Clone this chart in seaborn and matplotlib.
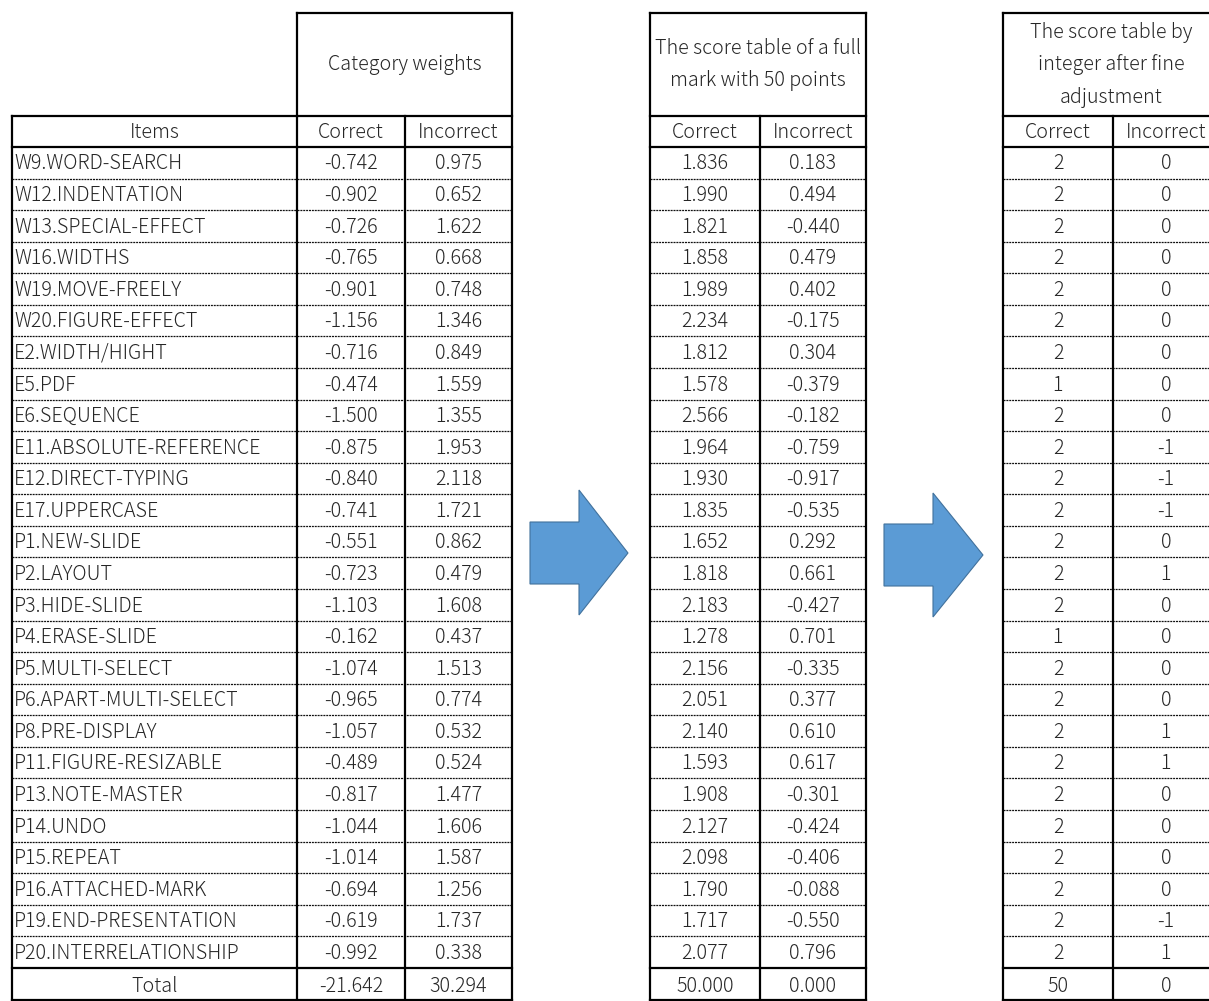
import matplotlib
matplotlib.use("Agg")
import matplotlib.pyplot as plt
import seaborn as sns
from matplotlib.patches import Polygon

sns.set_theme(style="white")
plt.rcParams['font.family'] = ['Noto Sans CJK JP', 'DejaVu Sans']

# ---------------- data ----------------
items = ["W9.WORD-SEARCH", "W12.INDENTATION", "W13.SPECIAL-EFFECT", "W16.WIDTHS",
         "W19.MOVE-FREELY", "W20.FIGURE-EFFECT", "E2.WIDTH/HIGHT", "E5.PDF",
         "E6.SEQUENCE", "E11.ABSOLUTE-REFERENCE", "E12.DIRECT-TYPING", "E17.UPPERCASE",
         "P1.NEW-SLIDE", "P2.LAYOUT", "P3.HIDE-SLIDE", "P4.ERASE-SLIDE",
         "P5.MULTI-SELECT", "P6.APART-MULTI-SELECT", "P8.PRE-DISPLAY", "P11.FIGURE-RESIZABLE",
         "P13.NOTE-MASTER", "P14.UNDO", "P15.REPEAT", "P16.ATTACHED-MARK",
         "P19.END-PRESENTATION", "P20.INTERRELATIONSHIP"]
weight_correct = ["-0.742", "-0.902", "-0.726", "-0.765", "-0.901", "-1.156", "-0.716", "-0.474",
                  "-1.500", "-0.875", "-0.840", "-0.741", "-0.551", "-0.723", "-1.103", "-0.162",
                  "-1.074", "-0.965", "-1.057", "-0.489", "-0.817", "-1.044", "-1.014", "-0.694",
                  "-0.619", "-0.992"]
weight_incorrect = ["0.975", "0.652", "1.622", "0.668", "0.748", "1.346", "0.849", "1.559",
                    "1.355", "1.953", "2.118", "1.721", "0.862", "0.479", "1.608", "0.437",
                    "1.513", "0.774", "0.532", "0.524", "1.477", "1.606", "1.587", "1.256",
                    "1.737", "0.338"]
score_correct = ["1.836", "1.990", "1.821", "1.858", "1.989", "2.234", "1.812", "1.578",
                 "2.566", "1.964", "1.930", "1.835", "1.652", "1.818", "2.183", "1.278",
                 "2.156", "2.051", "2.140", "1.593", "1.908", "2.127", "2.098", "1.790",
                 "1.717", "2.077"]
score_incorrect = ["0.183", "0.494", "-0.440", "0.479", "0.402", "-0.175", "0.304", "-0.379",
                   "-0.182", "-0.759", "-0.917", "-0.535", "0.292", "0.661", "-0.427", "0.701",
                   "-0.335", "0.377", "0.610", "0.617", "-0.301", "-0.424", "-0.406", "-0.088",
                   "-0.550", "0.796"]
int_correct = ["2", "2", "2", "2", "2", "2", "2", "1", "2", "2", "2", "2", "2",
               "2", "2", "1", "2", "2", "2", "2", "2", "2", "2", "2", "2", "2"]
int_incorrect = ["0", "0", "0", "0", "0", "0", "0", "0", "0", "-1", "-1", "-1", "0",
                 "1", "0", "0", "0", "0", "1", "1", "0", "0", "0", "0", "-1", "1"]
totals_weight = ["-21.642", "30.294"]
totals_score = ["50.000", "0.000"]
totals_int = ["50", "0"]

header1 = "Category weights"
header2 = "The score table of a full\nmark with 50 points"
header3 = "The score table by\ninteger after fine\nadjustment"
sub_headers = ["Correct", "Incorrect"]
items_label = "Items"
total_label = "Total"

# ---------------- layout ----------------
W, H = 1209, 1001
fig = plt.figure(figsize=(W / 100, H / 100), dpi=100)
ax = fig.add_axes([0, 0, 1, 1])
ax.set_xlim(0, W)
ax.set_ylim(H, 0)
ax.axis("off")

top = 13
sub_top = 116
data_top = 147
bottom = 999.5
n_rows = len(items) + 1
row_h = (bottom - data_top) / n_rows

FS = 14.2
FW = "light"
TXT = "#262626"
LW_SOLID = 1.6
LW_DASH = 0.9
DY = 1.2

def txt(x, y, s, ha="center", **kw):
    ax.text(x, y + DY, s, ha=ha, va="center", fontsize=FS, color=TXT, fontweight=FW, **kw)

def solid_h(y, x0, x1):
    ax.plot([x0, x1], [y, y], color="black", lw=LW_SOLID, solid_capstyle="projecting")

def solid_v(x, y0, y1):
    ax.plot([x, x], [y0, y1], color="black", lw=LW_SOLID, solid_capstyle="projecting")

def dashed_h(y, x0, x1):
    ax.plot([x0, x1], [y, y], color="#111111", lw=LW_DASH, linestyle=(0, (1.6, 0.7)))

def row_center(i):
    return data_top + (i + 0.5) * row_h

def draw_block(cols, header_text, columns, totals, header_y_top=top):
    x0, x1 = cols[0], cols[-1]
    solid_h(header_y_top, x0, x1)
    solid_h(sub_top, x0, x1)
    solid_h(data_top, x0, x1)
    txt((x0 + x1) / 2, (header_y_top + sub_top) / 2 - 1, header_text, linespacing=1.72)
    for j, lab in enumerate(sub_headers):
        txt((cols[j] + cols[j + 1]) / 2, (sub_top + data_top) / 2, lab)
    for i in range(len(items)):
        for j, col in enumerate(columns):
            txt((cols[j] + cols[j + 1]) / 2, row_center(i), col[i])
        if i < len(items) - 1:
            dashed_h(data_top + (i + 1) * row_h, x0, x1)
    tot_y = data_top + len(items) * row_h
    solid_h(tot_y, x0, x1)
    for j, v in enumerate(totals):
        txt((cols[j] + cols[j + 1]) / 2, row_center(len(items)) + 1.5, v)
    solid_h(bottom, x0, x1)
    solid_v(x0, header_y_top, bottom)
    solid_v(x1, header_y_top, bottom)
    solid_v(cols[1], sub_top, bottom)

# table 1 : items column
ix0, ix1 = 12, 297
solid_h(sub_top, ix0, ix1)
solid_h(data_top, ix0, ix1)
solid_v(ix0, sub_top, bottom)
txt((ix0 + ix1) / 2, (sub_top + data_top) / 2, items_label)
for i, name in enumerate(items):
    txt(ix0 + 2, row_center(i), name, ha="left")
    if i < len(items) - 1:
        dashed_h(data_top + (i + 1) * row_h, ix0, ix1)
solid_h(data_top + len(items) * row_h, ix0, ix1)
solid_h(bottom, ix0, ix1)
txt((ix0 + ix1) / 2, row_center(len(items)) + 1.5, total_label)

draw_block([297, 405, 512], header1, [weight_correct, weight_incorrect], totals_weight)
draw_block([650, 760, 866], header2, [score_correct, score_incorrect], totals_score)
draw_block([1003, 1113, 1219], header3, [int_correct, int_incorrect], totals_int)

# arrows
def arrow(xs, xh, xt, y_shaft, y_head, y_tip):
    pts = [(xs, y_shaft[0]), (xh, y_shaft[0]), (xh, y_head[0]), (xt, y_tip),
           (xh, y_head[1]), (xh, y_shaft[1]), (xs, y_shaft[1])]
    ax.add_patch(Polygon(pts, closed=True, facecolor="#5B9BD5", edgecolor="#41719C", lw=0.8))

arrow(530, 579, 628, (522, 584), (490, 615), 553)
arrow(884, 933, 983, (524, 586), (493, 617), 555)

fig.savefig("out.png", dpi=100)
